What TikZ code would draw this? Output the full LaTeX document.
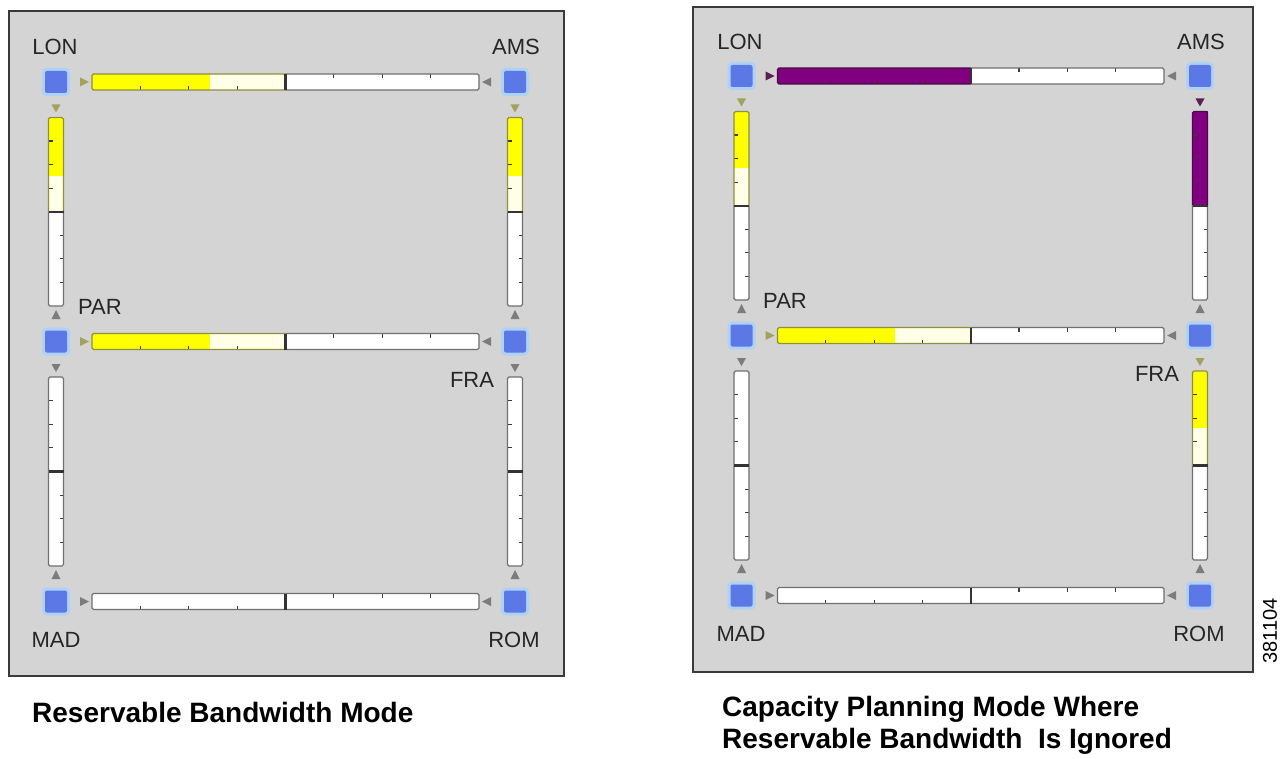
\documentclass[tikz,border=0pt]{standalone}
\usepackage{fontspec}
\setmainfont{Liberation Sans}
\definecolor{panelbg}{HTML}{D4D4D4}
\definecolor{panelframe}{HTML}{3A3A3A}
\definecolor{routerblue}{HTML}{5C78E6}
\definecolor{glow}{HTML}{AED2F5}
\definecolor{barY}{HTML}{FFFF00}
\definecolor{barLY}{HTML}{FFFEE6}
\definecolor{barP}{HTML}{800080}
\definecolor{edgeGray}{HTML}{707070}
\definecolor{edgeOlive}{HTML}{8F8F40}
\definecolor{edgePurple}{HTML}{4A0A44}
\definecolor{triGray}{HTML}{7C7C7C}
\definecolor{triOlive}{HTML}{A2A25C}
\definecolor{triPurple}{HTML}{5C2050}
\definecolor{tickc}{HTML}{3C3C3C}
\tikzset{
 panel/.style={fill=panelbg, draw=panelframe, line width=1.5pt},
 router/.style={rectangle, minimum size=22pt, inner sep=0pt, fill=routerblue, rounded corners=2pt, preaction={draw=glow, line width=6pt}},
 city/.style={font=\fontsize{22}{24}\selectfont, text=black!85, inner sep=0pt},
 caption/.style={font=\bfseries\fontsize{28}{32}\selectfont, inner sep=0pt, anchor=base west},
 barline/.style={line width=1.3pt, rounded corners=1.5pt},
 divider/.style={line width=2.2pt, draw=black!80},
 tickmark/.style={line width=1.2pt, draw=tickc},
}
% horizontal link bar between two router nodes
\newcommand\HBar[7]{%
 \path (#1); \pgfgetlastxy{\hbAx}{\hbAy}%
 \path (#2); \pgfgetlastxy{\hbBx}{\hbBy}%
 \pgfmathsetmacro\hbXa{\hbAx+36}%
 \pgfmathsetmacro\hbXb{\hbBx-36}%
 \pgfmathsetmacro\hbY{0-(\hbAy)}%
 \pgfmathsetmacro\hbXm{(\hbXa+\hbXb)/2}%
 \pgfmathsetmacro\hbXf{\hbXa+#4*(\hbXm-\hbXa)}%
 \fill[#5] (\hbXa,\hbY-8) rectangle (\hbXm,\hbY+8);
 \fill[#3] (\hbXa,\hbY-8) rectangle (\hbXf,\hbY+8);
 \fill[white] (\hbXm,\hbY-8) rectangle (\hbXb,\hbY+8);
 \foreach \q in {0.25,0.5,0.75}{%
   \draw[tickmark] ({\hbXa+\q*(\hbXm-\hbXa)},\hbY+8) -- ++(0,-4);
   \draw[tickmark] ({\hbXm+\q*(\hbXb-\hbXm)},\hbY-8) -- ++(0,4);
 }
 \draw[barline, draw=#6] (\hbXm,\hbY-8) -- (\hbXa,\hbY-8) -- (\hbXa,\hbY+8) -- (\hbXm,\hbY+8);
 \draw[barline, draw=edgeGray] (\hbXm,\hbY-8) -- (\hbXb,\hbY-8) -- (\hbXb,\hbY+8) -- (\hbXm,\hbY+8);
 \draw[divider] (\hbXm,\hbY-8) -- (\hbXm,\hbY+8);
 \fill[#7] (\hbXa-12,\hbY-4.5) -- (\hbXa-3,\hbY) -- (\hbXa-12,\hbY+4.5) -- cycle;
 \fill[triGray] (\hbXb+3,\hbY) -- (\hbXb+12,\hbY-4.5) -- (\hbXb+12,\hbY+4.5) -- cycle;
}
% vertical link bar between two router nodes
\newcommand\VBar[7]{%
 \path (#1); \pgfgetlastxy{\vbAx}{\vbAy}%
 \path (#2); \pgfgetlastxy{\vbBx}{\vbBy}%
 \pgfmathsetmacro\vbXc{\vbAx}%
 \pgfmathsetmacro\vbYa{35.5-(\vbAy)}%
 \pgfmathsetmacro\vbYb{-35.5-(\vbBy)}%
 \pgfmathsetmacro\vbYm{(\vbYa+\vbYb)/2}%
 \pgfmathsetmacro\vbYf{\vbYa+#4*(\vbYm-\vbYa)}%
 \fill[#5] (\vbXc-7.5,\vbYa) rectangle (\vbXc+7.5,\vbYm);
 \fill[#3] (\vbXc-7.5,\vbYa) rectangle (\vbXc+7.5,\vbYf);
 \fill[white] (\vbXc-7.5,\vbYm) rectangle (\vbXc+7.5,\vbYb);
 \foreach \q in {0.25,0.5,0.75}{%
   \draw[tickmark] (\vbXc-7.5,{\vbYa+\q*(\vbYm-\vbYa)}) -- ++(4,0);
   \draw[tickmark] (\vbXc+7.5,{\vbYm+\q*(\vbYb-\vbYm)}) -- ++(-4,0);
 }
 \draw[barline, draw=#6] (\vbXc-7.5,\vbYm) -- (\vbXc-7.5,\vbYa) -- (\vbXc+7.5,\vbYa) -- (\vbXc+7.5,\vbYm);
 \draw[barline, draw=edgeGray] (\vbXc-7.5,\vbYm) -- (\vbXc-7.5,\vbYb) -- (\vbXc+7.5,\vbYb) -- (\vbXc+7.5,\vbYm);
 \draw[divider] (\vbXc-7.5,\vbYm) -- (\vbXc+7.5,\vbYm);
 \fill[#7] (\vbXc-4.5,\vbYa-13) -- (\vbXc+4.5,\vbYa-13) -- (\vbXc,\vbYa-5) -- cycle;
 \fill[triGray] (\vbXc-4.5,\vbYb+13) -- (\vbXc+4.5,\vbYb+13) -- (\vbXc,\vbYb+4) -- cycle;
}
\begin{document}
\begin{tikzpicture}[x=1pt,y=-1pt]
\useasboundingbox[fill=white] (0,0) rectangle (1281,759);
% panels
\draw[panel] (9,11) rectangle (564,676);
\draw[panel] (693,7) rectangle (1253,672);
% left panel routers
\node[router] (LON) at (56,82) {};
\node[router] (AMS) at (515,82) {};
\node[router] (PAR) at (56,341.5) {};
\node[router] (FRA) at (515,341.5) {};
\node[router] (MAD) at (56,601.5) {};
\node[router] (ROM) at (515,601.5) {};
% right panel routers
\node[router] (LON2) at (741.5,76) {};
\node[router] (AMS2) at (1200,76) {};
\node[router] (PAR2) at (741.5,335.5) {};
\node[router] (FRA2) at (1200,335.5) {};
\node[router] (MAD2) at (741.5,595.5) {};
\node[router] (ROM2) at (1200,595.5) {};
% left panel links
\HBar{LON}{AMS}{barY}{0.61}{barLY}{edgeOlive}{triOlive}
\HBar{PAR}{FRA}{barY}{0.61}{barLY}{edgeOlive}{triOlive}
\HBar{MAD}{ROM}{white}{1}{white}{edgeGray}{triGray}
\VBar{LON}{PAR}{barY}{0.62}{barLY}{edgeOlive}{triOlive}
\VBar{AMS}{FRA}{barY}{0.62}{barLY}{edgeOlive}{triOlive}
\VBar{PAR}{MAD}{white}{1}{white}{edgeGray}{triGray}
\VBar{FRA}{ROM}{white}{1}{white}{edgeGray}{triGray}
% right panel links
\HBar{LON2}{AMS2}{barP}{1}{barP}{edgePurple}{triPurple}
\HBar{PAR2}{FRA2}{barY}{0.61}{barLY}{edgeOlive}{triOlive}
\HBar{MAD2}{ROM2}{white}{1}{white}{edgeGray}{triGray}
\VBar{LON2}{PAR2}{barY}{0.6}{barLY}{edgeOlive}{triOlive}
\VBar{AMS2}{FRA2}{barP}{1}{barP}{edgePurple}{triPurple}
\VBar{PAR2}{MAD2}{white}{1}{white}{edgeGray}{triGray}
\VBar{FRA2}{ROM2}{barY}{0.6}{barLY}{edgeOlive}{triOlive}
% city labels
\node[city] (LONl) at (55,47) {LON};
\node[city] (AMSl) at (516,47) {AMS};
\node[city] (PARl) at (100,307) {PAR};
\node[city] (FRAl) at (472,379.5) {FRA};
\node[city] (MADl) at (56,640) {MAD};
\node[city] (ROMl) at (514,640) {ROM};
\node[city] (LON2l) at (740,42) {LON};
\node[city] (AMS2l) at (1201,42) {AMS};
\node[city] (PAR2l) at (785,301) {PAR};
\node[city] (FRA2l) at (1157,373.5) {FRA};
\node[city] (MAD2l) at (741,634) {MAD};
\node[city] (ROM2l) at (1199,634) {ROM};
% captions
\node[caption] (capL) at (32,722) {Reservable Bandwidth Mode};
\node[caption] (capR1) at (722,716) {Capacity Planning Mode Where};
\node[caption] (capR2) at (722,748) {Reservable Bandwidth\ \ Is Ignored};
\node[rotate=90, font=\fontsize{20}{22}\selectfont, inner sep=0pt] (fig) at (1270,631) {381104};
\end{tikzpicture}
\end{document}
